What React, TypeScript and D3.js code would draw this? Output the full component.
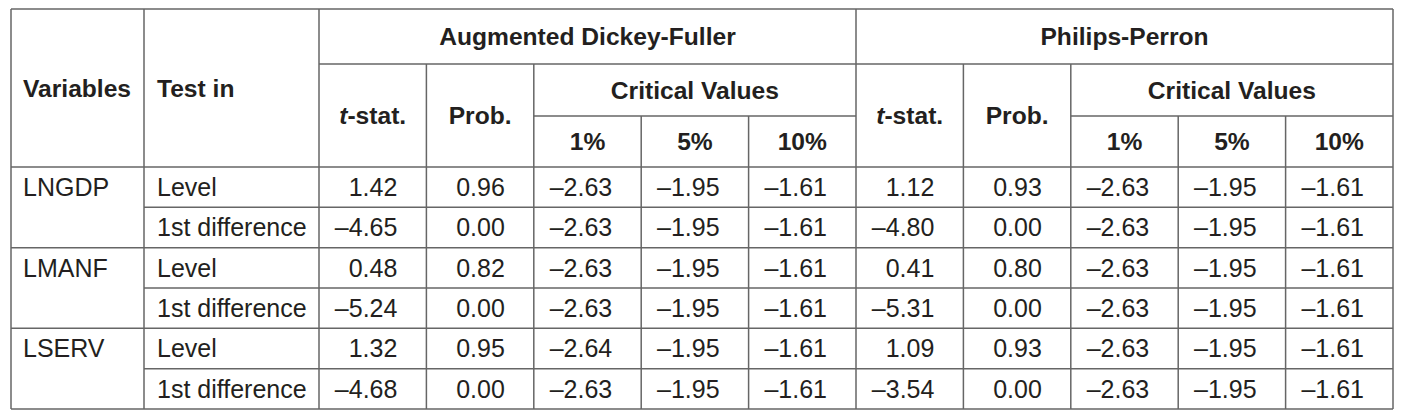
import React from "react";
import * as d3 from "d3";

const variables = ["LNGDP", "LMANF", "LSERV"];
const tests = ["Level", "1st difference"];
const groups = ["Augmented Dickey-Fuller", "Philips-Perron"];
const subHeaders = ["Prob.", "Critical Values"];
const cvLevels = ["1%", "5%", "10%"];

const adfT = [1.42, -4.65, 0.48, -5.24, 1.32, -4.68];
const adfProb = [0.96, 0.0, 0.82, 0.0, 0.95, 0.0];
const adfCV1 = [-2.63, -2.63, -2.63, -2.63, -2.64, -2.63];
const adfCV5 = [-1.95, -1.95, -1.95, -1.95, -1.95, -1.95];
const adfCV10 = [-1.61, -1.61, -1.61, -1.61, -1.61, -1.61];
const ppT = [1.12, -4.8, 0.41, -5.31, 1.09, -3.54];
const ppProb = [0.93, 0.0, 0.8, 0.0, 0.93, 0.0];
const ppCV1 = [-2.63, -2.63, -2.63, -2.63, -2.63, -2.63];
const ppCV5 = [-1.95, -1.95, -1.95, -1.95, -1.95, -1.95];
const ppCV10 = [-1.61, -1.61, -1.61, -1.61, -1.61, -1.61];

const columns = [adfT, adfProb, adfCV1, adfCV5, adfCV10, ppT, ppProb, ppCV1, ppCV5, ppCV10];

const fmt = (v: number) => (v < 0 ? "\u2013" : "") + d3.format(".2f")(Math.abs(v));

const W = 1413;
const H = 413;
const X0 = 11;
const X1 = 144;
const X2 = 319;
const XR = 1393;
const YT = 9;
const YH1 = 64;
const YH2 = 116;
const YH3 = 167;
const YB = 409;
const FS = 25;
const FSB = 24.6;
const LINE = "#666666";
const TXT = "#231f20";
const FONT = "'Liberation Sans', Arial, Helvetica, sans-serif";

export default function App() {
  const nRows = variables.length * tests.length;
  const x = d3.scaleLinear().domain([0, columns.length]).range([X2, XR]);
  const y = d3.scaleLinear().domain([0, nRows]).range([YH3, YB]);
  const dy = "0.35em";

  const lines: { x1: number; y1: number; x2: number; y2: number }[] = [];
  lines.push({ x1: X0, y1: YT, x2: XR, y2: YT });
  lines.push({ x1: X0, y1: YH3, x2: XR, y2: YH3 });
  lines.push({ x1: X0, y1: YB, x2: XR, y2: YB });
  lines.push({ x1: X2, y1: YH1, x2: XR, y2: YH1 });
  groups.forEach((_, g) => {
    lines.push({ x1: x(g * 5 + 2), y1: YH2, x2: x(g * 5 + 5), y2: YH2 });
  });
  for (let r = 1; r < nRows; r++) {
    const full = r % tests.length === 0;
    lines.push({ x1: full ? X0 : X1, y1: y(r), x2: XR, y2: y(r) });
  }
  [X0, X1, X2, XR].forEach((xx) => lines.push({ x1: xx, y1: YT, x2: xx, y2: YB }));
  groups.forEach((_, g) => {
    const b = g * 5;
    if (g > 0) lines.push({ x1: x(b), y1: YT, x2: x(b), y2: YB });
    lines.push({ x1: x(b + 1), y1: YH1, x2: x(b + 1), y2: YB });
    lines.push({ x1: x(b + 2), y1: YH1, x2: x(b + 2), y2: YB });
    lines.push({ x1: x(b + 3), y1: YH2, x2: x(b + 3), y2: YB });
    lines.push({ x1: x(b + 4), y1: YH2, x2: x(b + 4), y2: YB });
  });

  return (
    <svg
      width={W}
      height={H}
      style={{ position: "absolute", left: 0, top: 0, display: "block", background: "#fff" }}
      fontFamily={FONT}
      fontSize={FS}
      fill={TXT}
    >
      <rect width={W} height={H} fill="#fff" />
      <g stroke={LINE} strokeWidth={1.5}>
        {lines.map((l, i) => (
          <line key={i} {...l} />
        ))}
      </g>
      <g fontWeight="bold" fontSize={FSB}>
        <text x={X0 + 12} y={(YT + YH3) / 2} dy={dy}>Variables</text>
        <text x={X1 + 13} y={(YT + YH3) / 2} dy={dy}>Test in</text>
        {groups.map((gname, g) => {
          const b = g * 5;
          return (
            <g key={gname} textAnchor="middle">
              <text x={(x(b) + x(b + 5)) / 2} y={(YT + YH1) / 2} dy={dy}>{gname}</text>
              <text x={(x(b) + x(b + 1)) / 2} y={(YH1 + YH3) / 2} dy={dy}>
                <tspan fontStyle="italic">t</tspan>-stat.
              </text>
              <text x={(x(b + 1) + x(b + 2)) / 2} y={(YH1 + YH3) / 2} dy={dy}>{subHeaders[0]}</text>
              <text x={(x(b + 2) + x(b + 5)) / 2} y={(YH1 + YH2) / 2} dy={dy}>{subHeaders[1]}</text>
              {cvLevels.map((c, k) => (
                <text key={c} x={(x(b + 2 + k) + x(b + 3 + k)) / 2} y={(YH2 + YH3) / 2} dy={dy}>{c}</text>
              ))}
            </g>
          );
        })}
      </g>
      <g>
        {variables.map((v, i) => (
          <text key={v} x={X0 + 12} y={(y(i * 2) + y(i * 2 + 1)) / 2} dy={dy}>{v}</text>
        ))}
        {d3.range(nRows).map((r) => (
          <text key={"t" + r} x={X1 + 13} y={(y(r) + y(r + 1)) / 2} dy={dy}>
            {tests[r % tests.length]}
          </text>
        ))}
        {columns.map((col, c) =>
          col.map((v, r) => (
            <text key={c + "-" + r} x={x(c + 1) - 29} y={(y(r) + y(r + 1)) / 2} dy={dy} textAnchor="end">
              {fmt(v)}
            </text>
          ))
        )}
      </g>
    </svg>
  );
}
